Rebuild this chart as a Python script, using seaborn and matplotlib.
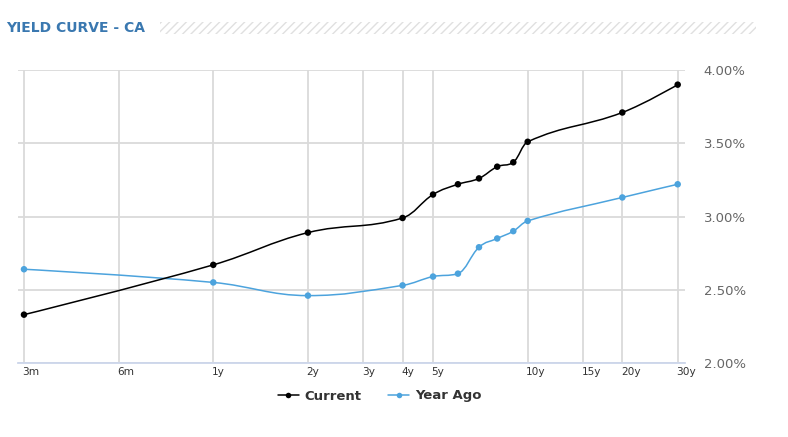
import numpy as np
import pandas as pd
import matplotlib
matplotlib.use("Agg")
import matplotlib.pyplot as plt
import seaborn as sns
from matplotlib.path import Path
from matplotlib.patches import PathPatch, Rectangle
from matplotlib.lines import Line2D
from matplotlib.ticker import FixedLocator, FixedFormatter, NullLocator
from matplotlib.transforms import ScaledTranslation

# ── Data ───────────────────────────────────────────────────────────────────────
tenors_years = [0.25, 1, 2, 4, 5, 6, 7, 8, 9, 10, 20, 30]
current      = [2.33, 2.67, 2.89, 2.99, 3.15, 3.22, 3.26, 3.34, 3.37, 3.51, 3.71, 3.90]
year_ago     = [2.64, 2.55, 2.46, 2.53, 2.59, 2.61, 2.79, 2.85, 2.90, 2.97, 3.13, 3.22]

tick_years  = [0.25, 0.5, 1, 2, 3, 4, 5, 10, 15, 20, 30]
tick_labels = ["3m", "6m", "1y", "2y", "3y", "4y", "5y", "10y", "15y", "20y", "30y"]
y_ticks     = [2.0, 2.5, 3.0, 3.5, 4.0]

COLORS = {"Current": "#000000", "Year Ago": "#4ca3dd"}

# ── Style ──────────────────────────────────────────────────────────────────────
sns.set_theme(style="white")
plt.rcParams["font.family"] = ["DejaVu Sans"]
plt.rcParams["hatch.linewidth"] = 1.0


def spline_path(xs, ys, smoothing=1.5):
    """Highcharts-like spline, built in (log x, y) space."""
    u = np.log(np.asarray(xs, float))
    y = np.asarray(ys, float)
    n = len(u)
    denom = smoothing + 1
    left = [(u[i], y[i]) for i in range(n)]
    right = [(u[i], y[i]) for i in range(n)]
    for i in range(1, n - 1):
        lx = (smoothing * u[i] + u[i - 1]) / denom
        ly = (smoothing * y[i] + y[i - 1]) / denom
        rx = (smoothing * u[i] + u[i + 1]) / denom
        ry = (smoothing * y[i] + y[i + 1]) / denom
        corr = (ry - ly) * (rx - u[i]) / (rx - lx) + y[i] - ry
        ly += corr
        ry += corr
        if ly > y[i - 1] and ly > y[i]:
            ly = max(y[i - 1], y[i]); ry = 2 * y[i] - ly
        elif ly < y[i - 1] and ly < y[i]:
            ly = min(y[i - 1], y[i]); ry = 2 * y[i] - ly
        if ry > y[i + 1] and ry > y[i]:
            ry = max(y[i + 1], y[i]); ly = 2 * y[i] - ry
        elif ry < y[i + 1] and ry < y[i]:
            ry = min(y[i + 1], y[i]); ly = 2 * y[i] - ry
        left[i] = (lx, ly)
        right[i] = (rx, ry)
    verts = [(np.exp(u[0]), y[0])]
    codes = [Path.MOVETO]
    for i in range(1, n):
        c1, c2 = right[i - 1], left[i]
        verts += [(np.exp(c1[0]), c1[1]), (np.exp(c2[0]), c2[1]), (np.exp(u[i]), y[i])]
        codes += [Path.CURVE4] * 3
    return Path(verts, codes)


# ── Plot ───────────────────────────────────────────────────────────────────────
W, H = 788, 437
fig = plt.figure(figsize=(W / 100, H / 100), dpi=100)
fig.patch.set_facecolor("white")
ax = fig.add_axes([18.3 / W, 1 - 363 / H, (685 - 18.3) / W, (363 - 70) / H])

df = pd.DataFrame({
    "tenor": tenors_years * 2,
    "yield": current + year_ago,
    "series": ["Current"] * len(current) + ["Year Ago"] * len(year_ago),
})

for name, vals in [("Year Ago", year_ago), ("Current", current)]:
    ax.add_patch(PathPatch(spline_path(tenors_years, vals), facecolor="none",
                           edgecolor=COLORS[name], linewidth=1.1, zorder=3))

sns.scatterplot(data=df, x="tenor", y="yield", hue="series", palette=COLORS,
                s=22, linewidth=0, ax=ax, legend=False, zorder=4)

ax.set_xscale("log")
ax.set_xlim(0.2398, 31.65)
ax.set_ylim(2.0, 4.0)
ax.xaxis.set_major_locator(FixedLocator(tick_years))
ax.xaxis.set_major_formatter(FixedFormatter(tick_labels))
ax.xaxis.set_minor_locator(NullLocator())
ax.set_yticks(y_ticks)
ax.set_yticklabels([f"{v:.2f}%" for v in y_ticks])
ax.yaxis.tick_right()
ax.set_xlabel(""); ax.set_ylabel("")

ax.grid(True, color="#dadada", linewidth=1.3, zorder=0)
ax.set_axisbelow(True)
for side in ["top", "left", "right"]:
    ax.spines[side].set_visible(False)
ax.spines["bottom"].set_color("#ccd6eb")
ax.spines["bottom"].set_linewidth(1.3)

ax.tick_params(axis="x", length=0, pad=3, labelsize=7.6, labelcolor="#333333")
ax.tick_params(axis="y", length=0, pad=13.5, labelsize=9.5, labelcolor="#666666")
shift = ScaledTranslation(-1.5 / 100, 0, fig.dpi_scale_trans)
for lbl in ax.get_xticklabels():
    lbl.set_horizontalalignment("left")
    lbl.set_transform(lbl.get_transform() + shift)

# Title with hatched strip
fig.text(6 / W, 1 - 28.5 / H, "YIELD CURVE - CA", fontsize=10, fontweight="bold",
         color="#3a78b0", ha="left", va="center")
fig.patches.append(Rectangle((160 / W, 1 - 34 / H), (756 - 160) / W, 12 / H,
                             transform=fig.transFigure, facecolor="white",
                             edgecolor="#e0e0e0", hatch="////", linewidth=0))

# Legend
handles = [Line2D([], [], color=COLORS[k], marker="o", markersize=4,
                  markeredgewidth=0, linewidth=1.1, label=k)
           for k in ["Current", "Year Ago"]]
leg = fig.legend(handles=handles, loc="center", bbox_to_anchor=(379.5 / W, 1 - 396 / H),
                 ncol=2, frameon=False, handlelength=1.6, handletextpad=0.45,
                 columnspacing=2.0, prop={"size": 9.5, "weight": "bold"})
for t in leg.get_texts():
    t.set_color("#333333")

fig.savefig("out.png", dpi=100, facecolor="white")
